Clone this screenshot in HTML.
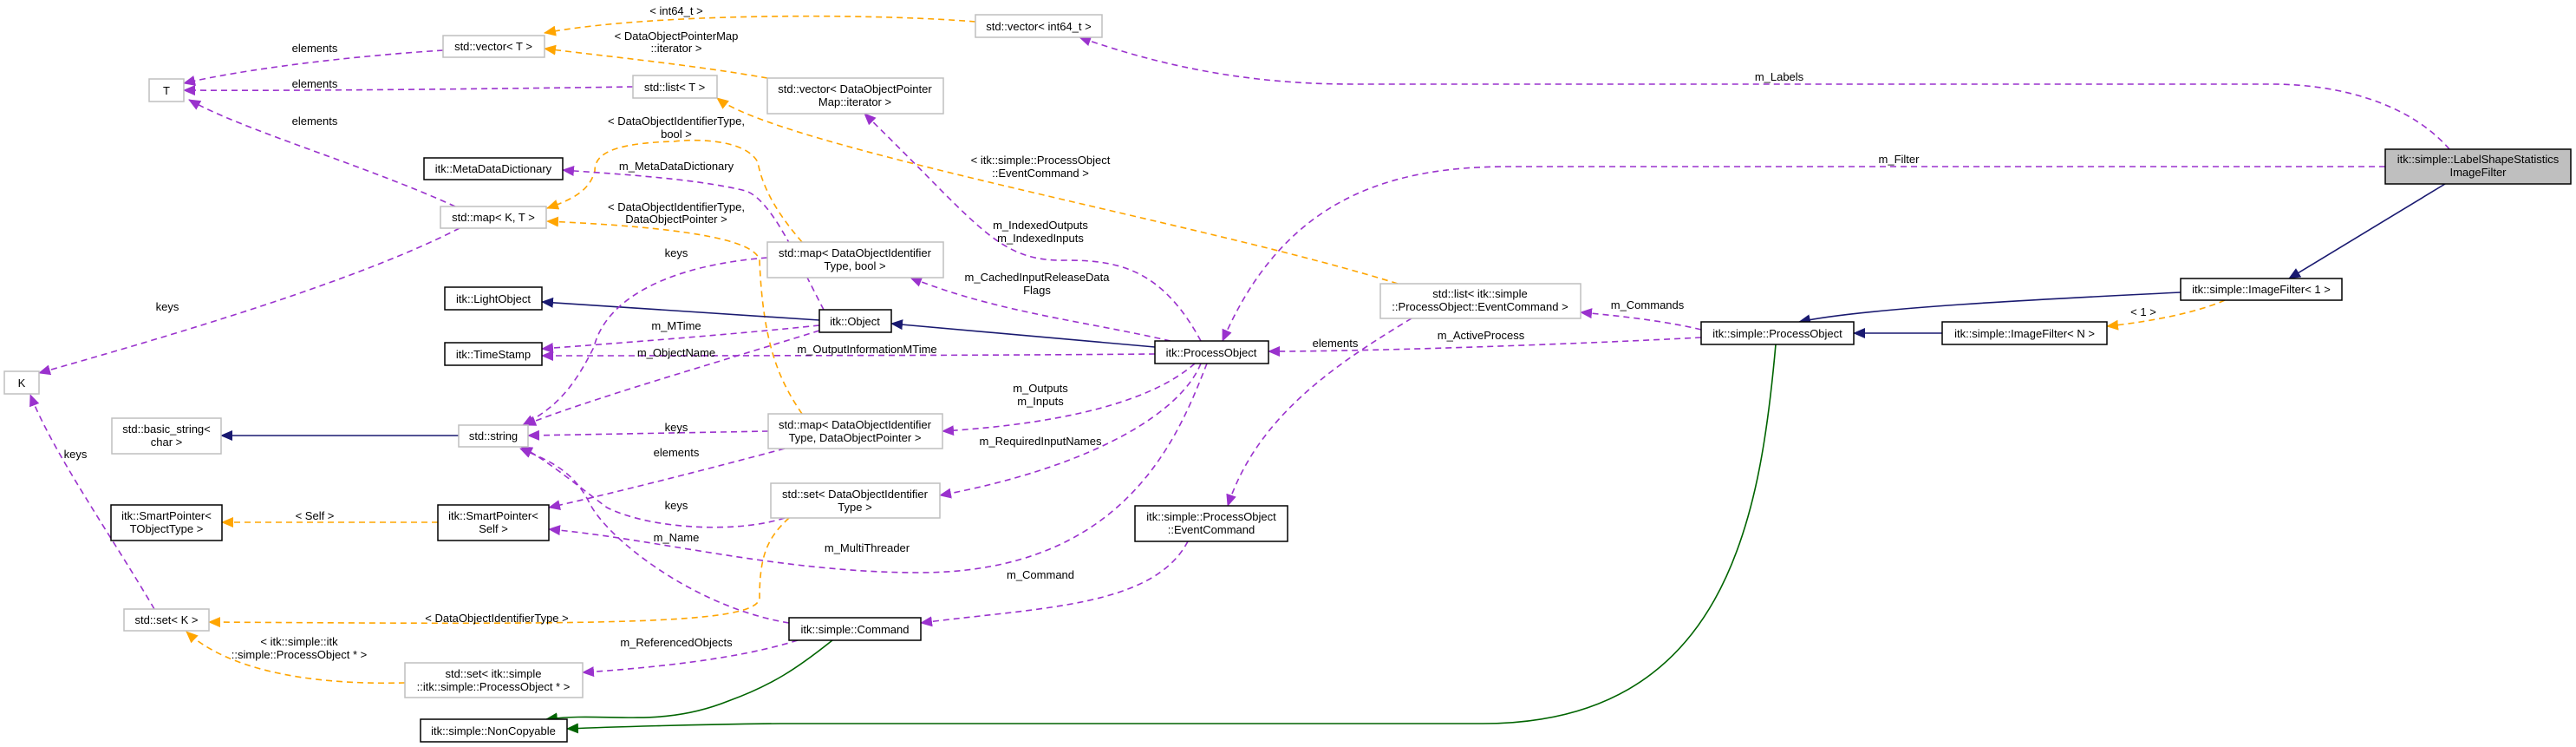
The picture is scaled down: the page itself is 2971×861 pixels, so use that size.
<!DOCTYPE html>
<html><head><meta charset="utf-8"><style>
html,body{margin:0;padding:0;background:#fff;}
svg{display:block;}
text{font-family:"Liberation Sans",sans-serif;font-size:13px;fill:#000;}
.g{fill:#fff;stroke:#bfbfbf;stroke-width:1.5;}
.b{fill:#fff;stroke:#000;stroke-width:1.5;}
.m{fill:#bfbfbf;stroke:#000;stroke-width:1.5;}
.p{fill:none;stroke:#9a32cd;stroke-width:1.6;stroke-dasharray:7,5;}
.o{fill:none;stroke:#ffa500;stroke-width:1.6;stroke-dasharray:7,5;}
.n{fill:none;stroke:#191970;stroke-width:1.6;}
.gr{fill:none;stroke:#006400;stroke-width:1.6;}
</style></head><body>
<svg width="2971" height="861" viewBox="0 0 2971 861" xmlns="http://www.w3.org/2000/svg">
<defs>
<marker id="ap" markerWidth="10" markerHeight="8" refX="9" refY="4" orient="auto" markerUnits="userSpaceOnUse"><path d="M0,0 L10,4 L0,8 z" fill="#9a32cd" transform="scale(1.4) translate(-3,-1.2)"/></marker>
<marker id="ao" markerWidth="14" markerHeight="12" refX="13" refY="6" orient="auto" markerUnits="userSpaceOnUse"><path d="M0,0 L14,6 L0,12 z" fill="#ffa500"/></marker>
<marker id="an" markerWidth="14" markerHeight="12" refX="13" refY="6" orient="auto" markerUnits="userSpaceOnUse"><path d="M0,0 L14,6 L0,12 z" fill="#191970"/></marker>
<marker id="ag" markerWidth="14" markerHeight="12" refX="13" refY="6" orient="auto" markerUnits="userSpaceOnUse"><path d="M0,0 L14,6 L0,12 z" fill="#006400"/></marker>
<marker id="pp" markerWidth="14" markerHeight="12" refX="13" refY="6" orient="auto" markerUnits="userSpaceOnUse"><path d="M0,0 L14,6 L0,12 z" fill="#9a32cd"/></marker>
</defs>

<!-- edges -->
<g>
<path class="o" d="M1125,25 C1000,15 750,15 628,38" marker-end="url(#ao)"/>
<path class="o" d="M885,90 C800,75 700,65 628,56" marker-end="url(#ao)"/>
<path class="p" d="M511,58 C400,65 280,80 212,96" marker-end="url(#pp)"/>
<path class="p" d="M730,100 C600,102 350,105 212,104" marker-end="url(#pp)"/>
<path class="p" d="M525,238 C420,190 280,150 218,115" marker-end="url(#pp)"/>
<path class="p" d="M530,263 C400,330 150,400 45,430" marker-end="url(#pp)"/>
<path class="p" d="M178,702 C130,620 60,520 35,455" marker-end="url(#pp)"/>
<path class="o" d="M1612,327 C1400,260 900,170 827,113" marker-end="url(#ao)"/>
<path class="o" d="M925,279 C900,250 880,220 874,187 C860,160 800,160 778,163 C700,165 686,180 686,197 C680,220 660,230 631,240" marker-end="url(#ao)"/>
<path class="o" d="M925,477 C900,440 880,400 876,300 C870,270 740,260 631,255" marker-end="url(#ao)"/>
<path class="o" d="M910,597 C885,620 876,640 876,690 C870,720 700,720 241,717" marker-end="url(#ao)"/>
<path class="o" d="M467,787 C350,790 260,770 215,728" marker-end="url(#ao)"/>
<path class="o" d="M505,602 L256,602" marker-end="url(#ao)"/>
<path class="o" d="M2566,346 C2530,362 2470,372 2430,376" marker-end="url(#ao)"/>

<path class="n" d="M529,502 L255,502" marker-end="url(#an)"/>
<path class="n" d="M945,369 L625,348" marker-end="url(#an)"/>
<path class="n" d="M1332,400 L1028,373" marker-end="url(#an)"/>
<path class="n" d="M2515,337 C2350,345 2150,355 2075,371" marker-end="url(#an)"/>
<path class="n" d="M2240,384 L2138,384" marker-end="url(#an)"/>
<path class="n" d="M2820,212 L2640,321" marker-end="url(#an)"/>
<path class="gr" d="M2048,397 C2030,600 1990,834 1710,834 L900,834 C800,835 700,838 654,840" marker-end="url(#ag)"/>
<path class="gr" d="M960,738 C920,770 890,790 840,808 C760,840 700,820 630,829" marker-end="url(#ag)"/>

<path class="p" d="M950,357 C920,300 890,230 860,220 C800,205 700,200 649,196" marker-end="url(#pp)"/>
<path class="p" d="M945,375 C850,385 720,395 625,402" marker-end="url(#pp)"/>
<path class="p" d="M1332,408 C1100,410 800,410 625,410" marker-end="url(#pp)"/>
<path class="p" d="M945,381 C820,420 680,460 605,490" marker-end="url(#pp)"/>
<path class="p" d="M885,297 C780,305 700,340 685,400 C660,450 640,470 603,490" marker-end="url(#pp)"/>
<path class="p" d="M886,497 L609,502" marker-end="url(#pp)"/>
<path class="p" d="M905,517 C800,545 700,570 633,585" marker-end="url(#pp)"/>
<path class="p" d="M905,597 C850,615 750,610 700,585 C660,555 630,530 601,515" marker-end="url(#pp)"/>
<path class="p" d="M910,718 C800,700 700,620 680,580 C660,540 630,530 600,517" marker-end="url(#pp)"/>
<path class="p" d="M1392,419 C1360,500 1300,660 1060,660 C900,660 750,620 633,610" marker-end="url(#pp)"/>
<path class="p" d="M1350,393 C1250,370 1150,360 1050,320" marker-end="url(#pp)"/>
<path class="p" d="M1385,393 C1340,310 1290,300 1230,300 C1150,302 1130,260 997,131" marker-end="url(#pp)"/>
<path class="p" d="M1378,419 C1320,470 1200,490 1087,497" marker-end="url(#pp)"/>
<path class="p" d="M1385,419 C1360,480 1250,540 1084,571" marker-end="url(#pp)"/>
<path class="p" d="M1628,367 C1540,420 1450,480 1416,583" marker-end="url(#pp)"/>
<path class="p" d="M1962,380 C1930,372 1880,365 1823,360" marker-end="url(#pp)"/>
<path class="p" d="M1962,389 C1850,395 1600,405 1463,405" marker-end="url(#pp)"/>
<path class="p" d="M1370,624 C1330,700 1200,700 1062,718" marker-end="url(#pp)"/>
<path class="p" d="M920,738 C850,760 750,770 672,775" marker-end="url(#pp)"/>
<path class="p" d="M2825,172 C2780,120 2700,97 2620,97 L1560,97 C1450,97 1350,80 1245,43" marker-end="url(#pp)"/>
<path class="p" d="M2751,192 L1740,192 C1600,192 1480,230 1410,393" marker-end="url(#pp)"/>
</g>

<!-- boxes -->
<g>
<rect class="g" x="172" y="91" width="40" height="26"/>
<rect class="g" x="511" y="41" width="117" height="25"/>
<rect class="g" x="730" y="87" width="97" height="26"/>
<rect class="g" x="885" y="90" width="203" height="41"/>
<rect class="g" x="1125" y="17" width="146" height="26"/>
<rect class="b" x="489" y="182" width="160" height="25"/>
<rect class="g" x="508" y="238" width="122" height="25"/>
<rect class="g" x="885" y="279" width="203" height="41"/>
<rect class="b" x="513" y="331" width="112" height="26"/>
<rect class="b" x="513" y="395" width="112" height="26"/>
<rect class="b" x="945" y="357" width="83" height="26"/>
<rect class="b" x="1332" y="393" width="131" height="26"/>
<rect class="g" x="1592" y="327" width="231" height="40"/>
<rect class="m" x="2751" y="172" width="214" height="40"/>
<rect class="b" x="2515" y="321" width="186" height="25"/>
<rect class="b" x="1962" y="371" width="176" height="26"/>
<rect class="b" x="2240" y="371" width="190" height="26"/>
<rect class="g" x="5" y="428" width="40" height="26"/>
<rect class="g" x="129" y="482" width="126" height="41"/>
<rect class="g" x="529" y="490" width="80" height="25"/>
<rect class="g" x="886" y="477" width="201" height="40"/>
<rect class="g" x="889" y="557" width="195" height="40"/>
<rect class="b" x="128" y="582" width="128" height="41"/>
<rect class="b" x="505" y="582" width="128" height="41"/>
<rect class="g" x="143" y="702" width="98" height="25"/>
<rect class="g" x="467" y="764" width="205" height="40"/>
<rect class="b" x="485" y="829" width="169" height="26"/>
<rect class="b" x="910" y="712" width="152" height="26"/>
<rect class="b" x="1309" y="583" width="176" height="41"/>
</g>

<g text-anchor="middle">
<text x="192" y="109">T</text>
<text x="569" y="58">std::vector&lt; T &gt;</text>
<text x="778" y="105">std::list&lt; T &gt;</text>
<text x="986" y="107">std::vector&lt; DataObjectPointer</text>
<text x="986" y="122">Map::iterator &gt;</text>
<text x="1198" y="35">std::vector&lt; int64_t &gt;</text>
<text x="569" y="199">itk::MetaDataDictionary</text>
<text x="569" y="255">std::map&lt; K, T &gt;</text>
<text x="986" y="296">std::map&lt; DataObjectIdentifier</text>
<text x="986" y="311">Type, bool &gt;</text>
<text x="569" y="349">itk::LightObject</text>
<text x="569" y="413">itk::TimeStamp</text>
<text x="986" y="375">itk::Object</text>
<text x="1397" y="411">itk::ProcessObject</text>
<text x="1707" y="343">std::list&lt; itk::simple</text>
<text x="1707" y="358">::ProcessObject::EventCommand &gt;</text>
<text x="2858" y="188">itk::simple::LabelShapeStatistics</text>
<text x="2858" y="203">ImageFilter</text>
<text x="2608" y="338">itk::simple::ImageFilter&lt; 1 &gt;</text>
<text x="2050" y="389">itk::simple::ProcessObject</text>
<text x="2335" y="389">itk::simple::ImageFilter&lt; N &gt;</text>
<text x="25" y="446">K</text>
<text x="192" y="499">std::basic_string&lt;</text>
<text x="192" y="514">char &gt;</text>
<text x="569" y="507">std::string</text>
<text x="986" y="494">std::map&lt; DataObjectIdentifier</text>
<text x="986" y="509">Type, DataObjectPointer &gt;</text>
<text x="986" y="574">std::set&lt; DataObjectIdentifier</text>
<text x="986" y="589">Type &gt;</text>
<text x="192" y="599">itk::SmartPointer&lt;</text>
<text x="192" y="614">TObjectType &gt;</text>
<text x="569" y="599">itk::SmartPointer&lt;</text>
<text x="569" y="614">Self &gt;</text>
<text x="192" y="719">std::set&lt; K &gt;</text>
<text x="569" y="781">std::set&lt; itk::simple</text>
<text x="569" y="796">::itk::simple::ProcessObject * &gt;</text>
<text x="569" y="847">itk::simple::NonCopyable</text>
<text x="986" y="730">itk::simple::Command</text>
<text x="1397" y="600">itk::simple::ProcessObject</text>
<text x="1397" y="615">::EventCommand</text>
</g>

<g text-anchor="middle" font-size="12">
<text x="780" y="17">&lt; int64_t &gt;</text>
<text x="780" y="46">&lt; DataObjectPointerMap</text>
<text x="780" y="60">::iterator &gt;</text>
<text x="363" y="60">elements</text>
<text x="363" y="101">elements</text>
<text x="363" y="144">elements</text>
<text x="193" y="358">keys</text>
<text x="87" y="528">keys</text>
<text x="1200" y="189">&lt; itk::simple::ProcessObject</text>
<text x="1200" y="204">::EventCommand &gt;</text>
<text x="780" y="144">&lt; DataObjectIdentifierType,</text>
<text x="780" y="159">bool &gt;</text>
<text x="780" y="196">m_MetaDataDictionary</text>
<text x="780" y="243">&lt; DataObjectIdentifierType,</text>
<text x="780" y="257">DataObjectPointer &gt;</text>
<text x="780" y="296">keys</text>
<text x="780" y="380">m_MTime</text>
<text x="780" y="411">m_ObjectName</text>
<text x="1000" y="407">m_OutputInformationMTime</text>
<text x="780" y="497">keys</text>
<text x="780" y="526">elements</text>
<text x="780" y="587">keys</text>
<text x="780" y="624">m_Name</text>
<text x="1000" y="636">m_MultiThreader</text>
<text x="363" y="599">&lt; Self &gt;</text>
<text x="573" y="717">&lt; DataObjectIdentifierType &gt;</text>
<text x="345" y="744">&lt; itk::simple::itk</text>
<text x="345" y="759">::simple::ProcessObject * &gt;</text>
<text x="780" y="745">m_ReferencedObjects</text>
<text x="1200" y="264">m_IndexedOutputs</text>
<text x="1200" y="279">m_IndexedInputs</text>
<text x="1196" y="324">m_CachedInputReleaseData</text>
<text x="1196" y="339">Flags</text>
<text x="1200" y="452">m_Outputs</text>
<text x="1200" y="467">m_Inputs</text>
<text x="1200" y="513">m_RequiredInputNames</text>
<text x="1200" y="667">m_Command</text>
<text x="1540" y="400">elements</text>
<text x="1708" y="391">m_ActiveProcess</text>
<text x="1900" y="356">m_Commands</text>
<text x="2052" y="93">m_Labels</text>
<text x="2190" y="188">m_Filter</text>
<text x="2472" y="364">&lt; 1 &gt;</text>
</g>
</svg>
</body></html>
